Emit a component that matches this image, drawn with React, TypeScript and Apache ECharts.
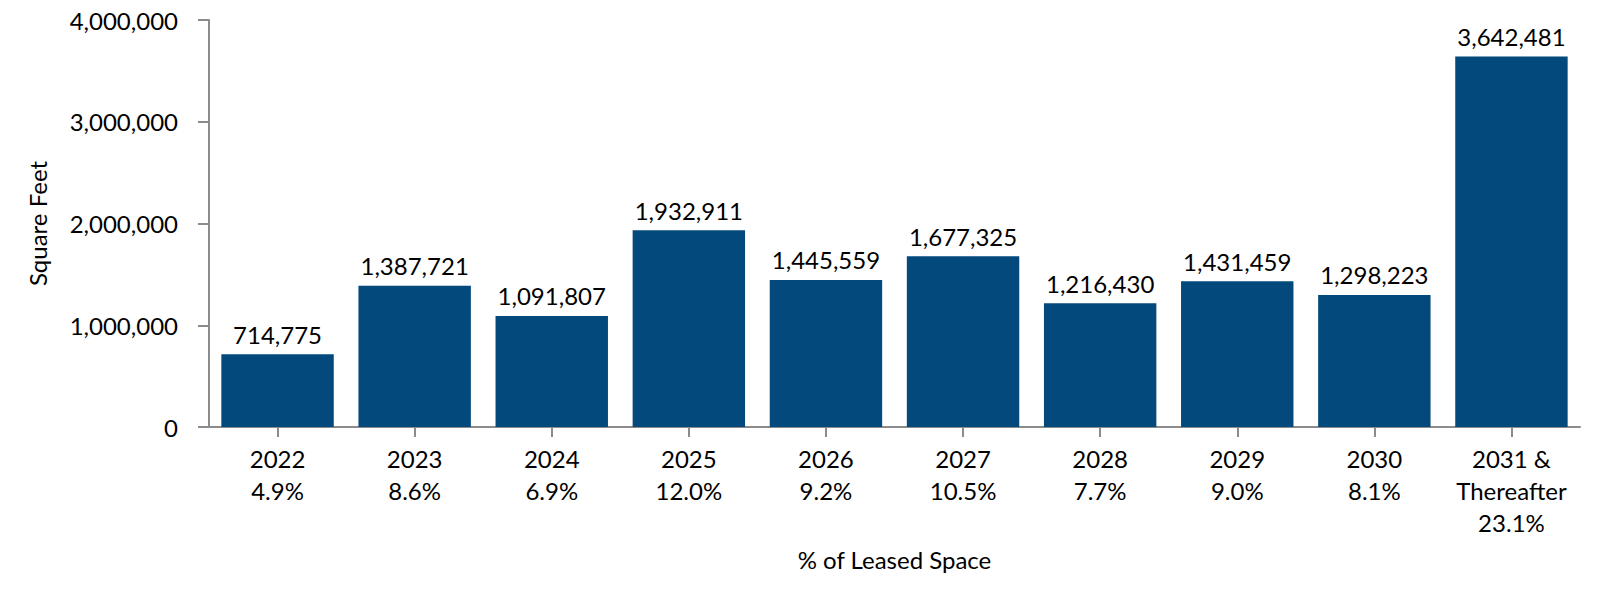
import React, { useEffect, useRef } from "react";
import * as echarts from "echarts";

const years = ["2022", "2023", "2024", "2025", "2026", "2027", "2028", "2029", "2030", "2031 &\nThereafter"];
const shares = ["4.9%", "8.6%", "6.9%", "12.0%", "9.2%", "10.5%", "7.7%", "9.0%", "8.1%", "23.1%"];
const squareFeet = [714775, 1387721, 1091807, 1932911, 1445559, 1677325, 1216430, 1431459, 1298223, 3642481];
const yTicks = [0, 1000000, 2000000, 3000000, 4000000];

const FONT = "Lato";
const FS = 24;
const fmt = (v: number) => v.toLocaleString("en-US");

export default function App() {
  const ref = useRef<HTMLDivElement>(null);
  useEffect(() => {
    if (!ref.current) return;
    const chart = echarts.init(ref.current, null, { renderer: "svg" });
    const categories = years.map((y, i) => `${y}\n${shares[i]}`);
    chart.setOption({
      animation: false,
      textStyle: { fontFamily: FONT },
      grid: { left: 209, right: 20, top: 20, bottom: 163, containLabel: false },
      xAxis: {
        type: "category",
        data: categories,
        name: "% of Leased Space",
        nameLocation: "middle",
        nameGap: 120,
        nameTextStyle: { fontSize: FS, color: "#000", fontFamily: FONT },
        axisLine: { show: true, lineStyle: { color: "#8c8c8c", width: 2 } },
        axisTick: { show: true, alignWithLabel: true, length: 10, lineStyle: { color: "#8c8c8c", width: 2 } },
        axisLabel: {
          interval: 0,
          margin: 15,
          fontSize: FS,
          lineHeight: 32,
          color: "#000",
          fontFamily: FONT,
        },
      },
      yAxis: {
        type: "value",
        min: yTicks[0],
        max: yTicks[yTicks.length - 1],
        interval: 1000000,
        name: "Square Feet",
        nameLocation: "middle",
        nameGap: 160,
        nameTextStyle: { fontSize: FS, color: "#000", fontFamily: FONT },
        splitLine: { show: false },
        axisLine: { show: true, lineStyle: { color: "#8c8c8c", width: 2 } },
        axisTick: { show: true, length: 11, lineStyle: { color: "#8c8c8c", width: 2 } },
        axisLabel: {
          margin: 31,
          fontSize: FS,
          color: "#000",
          fontFamily: FONT,
          formatter: (v: number) => fmt(v),
        },
      },
      series: [
        {
          type: "bar",
          data: squareFeet,
          barCategoryGap: "18%",
          itemStyle: { color: "#03497c" },
          label: {
            show: true,
            position: "top",
            distance: 8,
            fontSize: FS,
            color: "#000",
            fontFamily: FONT,
            formatter: (p: any) => fmt(p.value),
          },
        },
      ],
    });
    return () => chart.dispose();
  }, []);
  return (
    <div
      ref={ref}
      style={{ position: "absolute", left: 0, top: 0, width: 1600, height: 590, background: "#fff" }}
    />
  );
}
